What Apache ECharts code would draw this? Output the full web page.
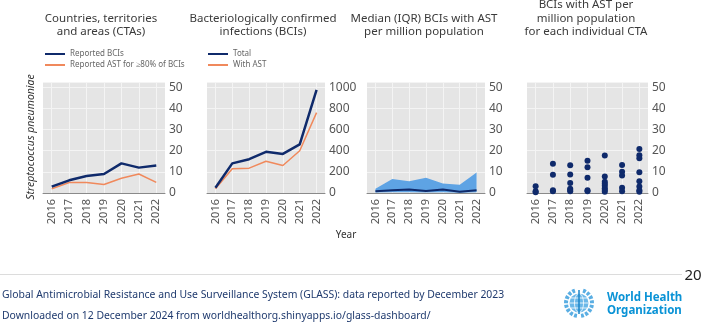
<!DOCTYPE html>
<html>
<head>
<meta charset="utf-8">
<script src="https://cdn.jsdelivr.net/npm/echarts@6/dist/echarts.min.js"></script>
<style>
  html, body { margin: 0; padding: 0; background: #fff; }
  #chart { width: 708px; height: 322px; }
</style>
</head>
<body>
<div id="chart"></div>
<script>
// data
const years = ["2016", "2017", "2018", "2019", "2020", "2021", "2022"];
const ctaReported = [3, 6, 8, 9, 14, 12, 13];
const ctaAst80 = [2, 5, 5, 4, 7, 9, 5];
const bciTotal = [50, 280, 320, 390, 370, 460, 975];
const bciWithAst = [40, 230, 235, 300, 260, 400, 760];
const medianAst = [0.8, 1.3, 1.7, 0.9, 1.7, 0.6, 1.3];
const iqrLow = [0.2, 0.3, 0.3, 0.2, 0.3, 0.1, 0.3];
const iqrHigh = [2, 6.6, 5.6, 7.2, 4.5, 3.9, 9.7];
const ctaPoints = [
  [3.2, 0.8, 0.4],
  [13.8, 8.6, 1.3, 0.8],
  [13.1, 8.8, 4.7, 2.0, 1.4, 0.8],
  [15.3, 12.2, 7.2, 1.3, 0.8],
  [17.7, 7.8, 5.3, 4.4, 3.4, 2.3, 1.4, 0.6],
  [13.3, 10, 8.3, 2.5, 0.8],
  [20.8, 17.8, 16.4, 9.8, 5.5, 3.1, 1.3, 0.6],
];
const ticks50 = [0, 10, 20, 30, 40, 50];
const ticks1000 = [0, 200, 400, 600, 800, 1000];

const NAVY = "#0f2a6b";
const ORANGE = "#f0895c";
const AREA = "#5ea3e4";
const GRAY_BG = "#e5e5e5";

const chart = echarts.init(document.getElementById("chart"));

const grids = [
  { left: 43, top: 82, width: 122, height: 111 },
  { left: 207, top: 82, width: 118, height: 111 },
  { left: 367, top: 82, width: 118, height: 111 },
  { left: 527, top: 82, width: 121, height: 111 },
].map((g) => ({ ...g, show: true, backgroundColor: GRAY_BG, borderWidth: 0 }));

const xAxis = grids.map((g, i) => ({
  type: "category",
  gridIndex: i,
  data: years,
  boundaryGap: true,
  axisLine: { lineStyle: { color: "#8a8a8a", width: 1 } },
  axisTick: { show: false },
  axisLabel: { rotate: 90, color: "#555", fontSize: 11, margin: 6 },
  splitLine: { show: true, alignWithLabel: true, lineStyle: { color: "#f4f4f4", width: 1 } },
}));

const yAxisFor = (i, max, interval, ticks) => ({
  type: "value",
  gridIndex: i,
  position: "right",
  min: 0,
  max: max,
  interval: interval,
  axisLine: { show: false },
  axisTick: { show: false },
  axisLabel: {
    color: "#555",
    fontSize: 12,
    margin: 4,
    formatter: (v) => (ticks.includes(v) ? String(v) : ""),
  },
  splitLine: { lineStyle: { color: "#f4f4f4", width: 1 } },
});

const yAxis = [
  yAxisFor(0, 52.5, 10, ticks50),
  yAxisFor(1, 1050, 200, ticks1000),
  yAxisFor(2, 52.5, 10, ticks50),
  yAxisFor(3, 52.5, 10, ticks50),
];

const scatterData = [];
ctaPoints.forEach((vals, i) => {
  vals.forEach((v) => scatterData.push([years[i], v]));
});

const lineSeries = (name, idx, data, color, width) => ({
  name: name,
  type: "line",
  xAxisIndex: idx,
  yAxisIndex: idx,
  data: data,
  symbol: "none",
  color: color,
  lineStyle: { color: color, width: width },
  silent: true,
  z: width > 2 ? 4 : 3,
});

const series = [
  lineSeries("Reported AST for \u226580% of BCIs", 0, ctaAst80, ORANGE, 1.5),
  lineSeries("Reported BCIs", 0, ctaReported, NAVY, 2.5),
  lineSeries("With AST", 1, bciWithAst, ORANGE, 1.5),
  lineSeries("Total", 1, bciTotal, NAVY, 2.5),
  {
    name: "iqr-low",
    type: "line",
    xAxisIndex: 2,
    yAxisIndex: 2,
    stack: "iqr",
    data: iqrLow,
    symbol: "none",
    lineStyle: { width: 0 },
    areaStyle: { opacity: 0 },
    silent: true,
  },
  {
    name: "iqr-band",
    type: "line",
    xAxisIndex: 2,
    yAxisIndex: 2,
    stack: "iqr",
    data: iqrHigh.map((v, i) => +(v - iqrLow[i]).toFixed(2)),
    symbol: "none",
    lineStyle: { width: 0 },
    areaStyle: { color: AREA, opacity: 1 },
    silent: true,
  },
  lineSeries("Median", 2, medianAst, NAVY, 2),
  {
    name: "CTA",
    type: "scatter",
    xAxisIndex: 3,
    yAxisIndex: 3,
    data: scatterData,
    symbolSize: 6,
    itemStyle: { color: NAVY, opacity: 1 },
    silent: true,
  },
];

const legendBase = {
  orient: "vertical",
  top: 44,
  itemWidth: 20,
  itemHeight: 2,
  itemGap: 1,
  icon: "rect",
  selectedMode: false,
  textStyle: { fontSize: 8, color: "#666", lineHeight: 10 },
};

const titles = [
  { x: 101, lines: ["Countries, territories", "and areas (CTAs)"] },
  { x: 263, lines: ["Bacteriologically confirmed", "infections (BCIs)"] },
  { x: 424, lines: ["Median (IQR) BCIs with AST", "per million population"] },
  { x: 586, lines: ["BCIs with AST per", "million population", "for each individual CTA"] },
];

const graphic = [];
titles.forEach((t) => {
  const n = t.lines.length;
  t.lines.forEach((line, k) => {
    graphic.push({
      type: "text",
      x: t.x,
      y: 32 - (n - 1 - k) * 13.5,
      style: {
        text: line,
        fill: "#3a3a3a",
        font: "11.5px 'Noto Sans'",
        textAlign: "center",
        textVerticalAlign: "middle",
      },
    });
  });
});

graphic.push(
  {
    type: "text",
    x: 31,
    y: 137,
    rotation: Math.PI / 2,
    style: {
      text: "Streptococcus pneumoniae",
      fill: "#333",
      font: "italic 10.5px 'Noto Sans'",
      textAlign: "center",
      textVerticalAlign: "middle",
    },
  },
  {
    type: "text",
    x: 346,
    y: 235,
    style: { text: "Year", fill: "#333", font: "10px 'Noto Sans'", textAlign: "center", textVerticalAlign: "middle" },
  },
  {
    type: "line",
    shape: { x1: 0, y1: 274.5, x2: 682, y2: 274.5 },
    style: { stroke: "#dcdcdc", lineWidth: 1 },
  },
  {
    type: "text",
    x: 693,
    y: 276,
    style: { text: "20", fill: "#222", font: "15px 'Noto Sans'", textAlign: "center", textVerticalAlign: "middle" },
  },
  {
    type: "text",
    x: 2,
    y: 295,
    style: {
      text: "Global Antimicrobial Resistance and Use Surveillance System (GLASS): data reported by December 2023",
      fill: "#1f3a6e",
      font: "10.4px 'Noto Sans'",
      textVerticalAlign: "middle",
    },
  },
  {
    type: "text",
    x: 2,
    y: 316,
    style: {
      text: "Downloaded on 12 December 2024 from worldhealthorg.shinyapps.io/glass-dashboard/",
      fill: "#1f3a6e",
      font: "10.4px 'Noto Sans'",
      textVerticalAlign: "middle",
    },
  },
  // WHO emblem (rough)
  {
    type: "group",
    x: 579,
    y: 303,
    children: [
      { type: "arc", shape: { cx: 0, cy: 0, r: 13, startAngle: Math.PI * 0.55, endAngle: Math.PI * 1.4 }, style: { stroke: "#5aaee3", lineWidth: 4, lineDash: [3, 1.5], fill: null } },
      { type: "arc", shape: { cx: 0, cy: 0, r: 13, startAngle: -Math.PI * 0.4, endAngle: Math.PI * 0.45 }, style: { stroke: "#5aaee3", lineWidth: 4, lineDash: [3, 1.5], fill: null } },
      { type: "circle", shape: { cx: 0, cy: 0, r: 9.5 }, style: { fill: "#6cb8e8" } },
      { type: "ellipse", shape: { cx: 0, cy: 0, rx: 4.5, ry: 9.5 }, style: { fill: null, stroke: "#fff", lineWidth: 0.8 } },
      { type: "line", shape: { x1: -9.5, y1: 0, x2: 9.5, y2: 0 }, style: { stroke: "#fff", lineWidth: 0.8 } },
      { type: "line", shape: { x1: -8, y1: -5, x2: 8, y2: -5 }, style: { stroke: "#fff", lineWidth: 0.8 } },
      { type: "line", shape: { x1: -8, y1: 5, x2: 8, y2: 5 }, style: { stroke: "#fff", lineWidth: 0.8 } },
      { type: "line", shape: { x1: 0, y1: -13, x2: 0, y2: 11 }, style: { stroke: "#1b86c8", lineWidth: 1.5 } },
    ],
  },
  {
    type: "text",
    x: 607,
    y: 298,
    style: { text: "World Health", fill: "#0a93d6", font: "bold 11.5px 'Noto Sans'", textVerticalAlign: "middle" },
  },
  {
    type: "text",
    x: 607,
    y: 311,
    style: { text: "Organization", fill: "#0a93d6", font: "bold 11.5px 'Noto Sans'", textVerticalAlign: "middle" },
  }
);

chart.setOption({
  animation: false,
  textStyle: { fontFamily: "Noto Sans" },
  grid: grids,
  xAxis: xAxis,
  yAxis: yAxis,
  legend: [
    { ...legendBase, left: 40, data: ["Reported BCIs", "Reported AST for \u226580% of BCIs"] },
    { ...legendBase, left: 203, data: ["Total", "With AST"] },
  ],
  series: series,
  graphic: graphic,
});
</script>
</body>
</html>
